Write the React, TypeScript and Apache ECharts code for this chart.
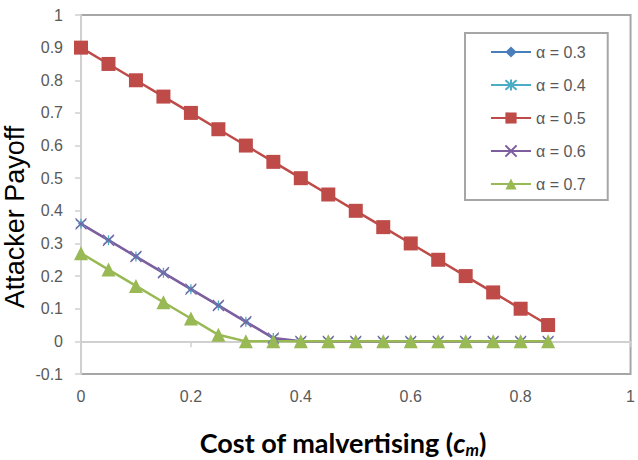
import React, { useEffect, useRef } from "react";
import * as echarts from "echarts";

const xValues = [0, 0.05, 0.1, 0.15, 0.2, 0.25, 0.3, 0.35, 0.4, 0.45, 0.5, 0.55, 0.6, 0.65, 0.7, 0.75, 0.8, 0.85];
const alpha03 = [0.36, 0.31, 0.26, 0.21, 0.16, 0.11, 0.06, 0.01, 0, 0, 0, 0, 0, 0, 0, 0, 0, 0];
const alpha04 = [0.36, 0.31, 0.26, 0.21, 0.16, 0.11, 0.06, 0.01, 0, 0, 0, 0, 0, 0, 0, 0, 0, 0];
const alpha05 = [0.9, 0.85, 0.8, 0.75, 0.7, 0.65, 0.6, 0.55, 0.5, 0.45, 0.4, 0.35, 0.3, 0.25, 0.2, 0.15, 0.1, 0.05];
const alpha06 = [0.36, 0.31, 0.26, 0.21, 0.16, 0.11, 0.06, 0.01, 0, 0, 0, 0, 0, 0, 0, 0, 0, 0];
const alpha07 = [0.27, 0.22, 0.17, 0.12, 0.07, 0.02, 0, 0, 0, 0, 0, 0, 0, 0, 0, 0, 0, 0];
const seriesNames = ["α = 0.3", "α = 0.4", "α = 0.5", "α = 0.6", "α = 0.7"];
const xTicks = { min: 0, max: 1, interval: 0.2 };
const yTicks = { min: -0.1, max: 1, interval: 0.1 };

const colors = ["#4a7ebb", "#4bacc6", "#be4b48", "#7d5fa0", "#98b954"];
const crossPath = "path://M0,0L10,10M10,0L0,10";
const starPath = "path://M0,0L10,10M10,0L0,10M5,-1L5,11";

export default function App() {
  const ref = useRef<HTMLDivElement>(null);
  useEffect(() => {
    if (!ref.current) return;
    const chart = echarts.init(ref.current, null, { renderer: "svg" });
    const all = [alpha03, alpha04, alpha05, alpha06, alpha07];
    const symbols = ["diamond", starPath, "rect", crossPath, "triangle"];
    const sizes = [6, 10, 14, 11, 14];
    const widths = [1.4, 1.4, 2.5, 2.6, 2.5];
    const series = all.map((vals, i) => ({
      type: "line",
      name: seriesNames[i],
      data: xValues.map((x, j) => [x, vals[j]]),
      symbol: symbols[i],
      symbolSize: sizes[i],
      lineStyle: { color: colors[i], width: widths[i] },
      itemStyle: {
        color: colors[i],
        borderColor: colors[i],
        borderWidth: i === 1 || i === 3 ? 1.3 : 0,
      },
      emphasis: { disabled: true },
    }));
    const labelFont = "Liberation Sans";
    chart.setOption({
      animation: false,
      backgroundColor: "#ffffff",
      grid: {
        left: 81,
        right: 7,
        top: 15,
        bottom: 86,
        show: true,
        borderColor: "#a6a6a6",
        borderWidth: 2,
        backgroundColor: "transparent",
      },
      xAxis: {
        type: "value",
        min: xTicks.min,
        max: xTicks.max,
        interval: xTicks.interval,
        axisLine: { show: true, lineStyle: { color: "#d0d0d0", width: 2 } },
        axisTick: { show: true, length: 6, lineStyle: { color: "#d0d0d0", width: 1.5 } },
        splitLine: { show: false },
        axisLabel: {
          color: "#595959",
          fontSize: 16,
          fontFamily: labelFont,
          margin: 14,
          formatter: (v: number) => String(Math.round(v * 10) / 10),
        },
      },
      yAxis: {
        type: "value",
        min: yTicks.min,
        max: yTicks.max,
        interval: yTicks.interval,
        axisLine: { show: true, lineStyle: { color: "#d0d0d0", width: 2 } },
        axisTick: { show: true, length: 6, lineStyle: { color: "#d0d0d0", width: 1.5 } },
        splitLine: { show: false },
        axisLabel: {
          color: "#595959",
          fontSize: 16,
          fontFamily: labelFont,
          margin: 18,
          formatter: (v: number) => String(Math.round(v * 10) / 10),
        },
      },
      legend: {
        show: true,
        orient: "vertical",
        left: 465,
        top: 33,
        data: seriesNames,
        itemWidth: 40,
        itemHeight: 14,
        itemGap: 17,
        padding: [11, 22, 8, 25],
        borderColor: "#a6a6a6",
        borderWidth: 2,
        backgroundColor: "#ffffff",
        textStyle: { color: "#595959", fontSize: 16, fontFamily: labelFont },
      },
      graphic: [
        {
          type: "text",
          x: 15,
          y: 217,
          rotation: Math.PI / 2,
          style: {
            text: "Attacker Payoff",
            font: "27px 'Liberation Sans'",
            fill: "#000000",
            textAlign: "center",
            textVerticalAlign: "middle",
          },
        },
        {
          type: "text",
          x: 343,
          y: 442,
          style: {
            text: "{n|Cost of malvertising (}{i|c}{s|m}{n|)}",
            fill: "#000000",
            textAlign: "center",
            textVerticalAlign: "middle",
            rich: {
              n: {
                fontWeight: "bold",
                fontSize: 27,
                fontFamily: "Lato",
                fill: "#000",
                lineHeight: 32,
                verticalAlign: "middle",
              },
              i: {
                fontStyle: "italic",
                fontWeight: "bold",
                fontSize: 27,
                fontFamily: "Lato",
                fill: "#000",
                lineHeight: 32,
                verticalAlign: "middle",
              },
              s: {
                fontStyle: "italic",
                fontWeight: "bold",
                fontSize: 17,
                fontFamily: "Lato",
                fill: "#000",
                lineHeight: 17,
                verticalAlign: "bottom",
              },
            },
          },
        },
      ],
      series,
    });
    return () => chart.dispose();
  }, []);
  return <div ref={ref} style={{ width: 638, height: 460, position: "absolute", left: 0, top: 0 }} />;
}
